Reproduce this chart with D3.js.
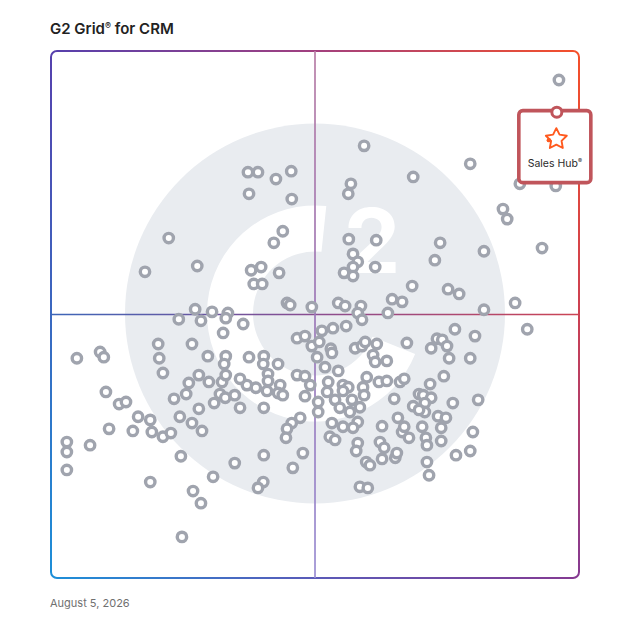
<!DOCTYPE html>
<html>
<head>
<meta charset="utf-8">
<script src="https://cdn.jsdelivr.net/npm/d3@7"></script>
<style>
  html, body { margin: 0; padding: 0; background: #fff; }
  svg { display: block; font-family: Inter, "Noto Sans", sans-serif; }
</style>
</head>
<body>
<div id="chart"></div>
<script>
// G2 Grid scatter: x = satisfaction, y = market presence (0-100)

const width = 628;
const height = 628;

const chartTitle = 'G2 Grid';
const chartSubject = ' for CRM';
const chartDate = 'August 5, 2026';

const satisfaction = [
  37.3, 39.2, 42.6, 45.5, 37.5, 45.6, 43.9, 42.2, 22.3, 17.8,
  27.7, 37.9, 39.8, 38.4, 40.0, 43.2, 44.7, 45.3, 49.4, 27.3,
  30.5, 33.5, 59.3, 79.4, 68.6, 56.8, 56.3, 88.8, 95.6, 85.6,
  86.4, 56.4, 61.6, 73.7, 93.0, 82.0, 57.2, 58.1, 72.7, 57.2,
  61.4, 55.5, 57.2, 68.4, 75.2, 77.3, 54.4, 55.7, 58.7, 64.6,
  66.5, 87.9, 82.0, 58.1, 63.8, 58.9, 96.2, 4.9, 9.3, 10.0,
  20.3, 20.5, 21.2, 24.2, 28.4, 33.1, 32.6, 26.7, 29.7, 33.1,
  32.8, 28.0, 26.1, 29.9, 32.4, 33.1, 25.6, 23.3, 32.0, 30.9,
  33.0, 28.0, 24.4, 26.7, 28.6, 10.4, 12.9, 14.2, 16.5, 18.8,
  19.1, 21.2, 22.7, 15.5, 11.0, 3.0, 7.4, 36.4, 46.6, 48.1,
  51.3, 53.4, 55.9, 49.4, 50.8, 50.4, 53.0, 53.2, 51.9, 54.4,
  57.6, 58.9, 59.5, 61.7, 61.0, 61.4, 63.6, 59.8, 62.1, 63.6,
  66.1, 66.9, 59.1, 59.3, 65.0, 55.3, 56.3, 55.3, 52.5, 52.3,
  53.8, 54.7, 57.0, 56.6, 58.5, 58.1, 55.3, 57.2, 53.2, 52.8,
  53.8, 62.7, 65.7, 66.5, 62.3, 58.1, 50.6, 50.6, 49.1, 48.1,
  46.6, 48.1, 47.2, 45.6, 44.7, 44.5, 43.0, 40.3, 40.2, 37.5,
  41.1, 41.1, 40.9, 43.4, 43.0, 43.9, 38.8, 37.1, 35.8, 34.8,
  35.8, 40.3, 90.2, 76.5, 80.3, 67.4, 73.1, 74.1, 72.0, 75.0,
  75.4, 79.4, 74.4, 71.8, 69.7, 70.5, 72.0, 68.6, 70.8, 70.8,
  69.7, 73.3, 74.8, 76.1, 80.9, 73.9, 70.3, 79.9, 67.8, 71.0,
  73.9, 66.9, 3.0, 3.0, 24.6, 18.8, 30.7, 26.9, 28.4, 24.8,
  40.3, 34.8, 47.7, 45.8, 40.2, 39.2, 57.8, 59.7, 60.4, 63.1,
  62.7, 65.2, 65.5, 58.5, 60.0, 71.2, 79.4, 76.7, 71.2, 71.6
];

const marketPresence = [
  77.0, 77.0, 75.7, 77.2, 72.9, 71.9, 65.8, 63.6, 64.5, 58.1,
  59.2, 58.4, 59.0, 55.8, 55.8, 57.9, 52.2, 51.8, 51.4, 51.0,
  50.5, 50.3, 82.0, 78.6, 76.1, 74.8, 72.9, 74.8, 74.4, 70.0,
  68.1, 64.3, 64.1, 63.6, 62.6, 62.0, 61.5, 60.0, 60.3, 59.0,
  59.0, 57.9, 57.3, 55.4, 54.8, 53.9, 52.2, 51.6, 51.6, 52.9,
  52.4, 52.2, 50.9, 50.3, 50.3, 49.0, 94.5, 41.7, 42.9, 41.9,
  44.4, 41.7, 38.9, 49.1, 48.8, 49.3, 46.5, 44.4, 42.1, 42.1,
  40.6, 38.5, 37.0, 37.2, 37.2, 38.5, 34.9, 34.0, 34.9, 33.2,
  34.2, 32.1, 30.6, 29.4, 27.9, 35.3, 33.0, 33.4, 30.6, 30.0,
  27.7, 26.8, 27.5, 27.9, 28.3, 25.8, 25.2, 48.2, 45.5, 45.9,
  46.9, 47.4, 47.8, 44.0, 44.8, 41.9, 43.5, 42.7, 40.0, 39.3,
  43.6, 44.0, 44.8, 44.4, 42.3, 41.0, 41.2, 38.1, 37.2, 37.4,
  37.2, 37.8, 36.2, 34.7, 34.0, 36.6, 36.2, 35.5, 37.2, 35.3,
  33.8, 32.3, 33.8, 31.5, 32.4, 29.6, 28.7, 28.5, 29.4, 26.8,
  26.2, 28.8, 30.4, 27.7, 25.8, 25.6, 33.4, 31.5, 36.6, 34.5,
  38.5, 38.3, 30.4, 29.4, 28.3, 26.6, 40.6, 42.1, 40.6, 41.9,
  38.7, 37.4, 35.5, 36.6, 35.1, 34.7, 36.1, 36.6, 37.8, 34.7,
  32.3, 32.3, 47.2, 47.2, 45.9, 44.6, 45.4, 45.2, 43.6, 44.0,
  41.7, 41.7, 38.3, 36.8, 34.9, 34.7, 34.2, 32.6, 33.2, 31.5,
  31.9, 30.7, 30.4, 33.2, 33.8, 28.5, 28.7, 27.7, 26.6, 26.6,
  26.0, 28.7, 23.9, 20.5, 23.1, 18.2, 19.2, 16.5, 14.2, 7.8,
  23.3, 21.8, 23.7, 20.9, 18.2, 17.1, 24.1, 22.0, 21.4, 24.7,
  22.6, 22.8, 23.7, 17.3, 17.1, 25.2, 24.1, 23.3, 22.0, 19.5
];

// highlighted product
const featuredName = 'Sales Hub';
const featuredScore = [95.8, 88.4]; // [satisfaction, market presence]

const xScale = d3.scaleLinear().domain([0, 100]).range([51, 579]);
const yScale = d3.scaleLinear().domain([0, 100]).range([578, 51]);

const points = satisfaction.map((s, i) => [s, marketPresence[i]]);

const svg = d3.select('#chart')
  .append('svg')
  .attr('width', width)
  .attr('height', height)
  .attr('viewBox', `0 0 ${width} ${height}`);

const defs = svg.append('defs');

function addGradient(id, x1, y1, x2, y2, stops) {
  const g = defs.append('linearGradient')
    .attr('id', id)
    .attr('gradientUnits', 'userSpaceOnUse')
    .attr('x1', x1).attr('y1', y1)
    .attr('x2', x2).attr('y2', y2);
  stops.forEach(([o, c]) => g.append('stop').attr('offset', o).attr('stop-color', c));
}

const x0 = xScale(0), x1 = xScale(100), y0 = yScale(100), y1 = yScale(0);
const xm = xScale(50), ym = yScale(50);

addGradient('g-top', x0, 0, x1, 0, [[0, '#5640ad'], [0.5, '#a2407f'], [1, '#f5502a']]);
addGradient('g-right', 0, y0, 0, y1, [[0, '#f5502a'], [0.5, '#cc4052'], [1, '#853a92']]);
addGradient('g-bottom', x0, 0, x1, 0, [[0, '#1d8fd8'], [0.5, '#5a5ab8'], [1, '#853a92']]);
addGradient('g-left', 0, y0, 0, y1, [[0, '#5640ad'], [0.5, '#3a68c0'], [1, '#1d8fd8']]);
addGradient('g-hmid', x0, 0, x1, 0, [[0, '#3d66b8'], [0.5, '#8a4c90'], [1, '#cc4454']]);
addGradient('g-vmid', 0, y0, 0, y1, [[0, '#b87ea6'], [0.5, '#9c78b8'], [1, '#9a8ed2']]);

// background G2 logo
const logo = svg.append('g').attr('transform', `translate(${xm}, ${ym - 1})`);

logo.append('circle')
  .attr('r', 190)
  .attr('fill', '#e9ecf0');

logo.append('path')
  .attr('d', d3.arc()
    .innerRadius(62)
    .outerRadius(108)
    .startAngle(112 * Math.PI / 180)
    .endAngle(366 * Math.PI / 180)())
  .attr('fill', '#fff');

logo.append('text')
  .attr('x', 57)
  .attr('y', -41)
  .attr('text-anchor', 'middle')
  .attr('fill', '#fff')
  .style('font-size', '90px')
  .style('font-weight', 700)
  .text('2');

// frame
const r = 6;
const frame = svg.append('g').attr('fill', 'none').attr('stroke-width', 2);
frame.append('path').attr('stroke', 'url(#g-top)')
  .attr('d', `M${x0},${y0 + r} A${r},${r} 0 0 1 ${x0 + r},${y0} H${x1 - r} A${r},${r} 0 0 1 ${x1},${y0 + r}`);
frame.append('path').attr('stroke', 'url(#g-right)')
  .attr('d', `M${x1},${y0 + r} V${y1 - r} A${r},${r} 0 0 1 ${x1 - r},${y1}`);
frame.append('path').attr('stroke', 'url(#g-bottom)')
  .attr('d', `M${x1 - r},${y1} H${x0 + r} A${r},${r} 0 0 1 ${x0},${y1 - r}`);
frame.append('path').attr('stroke', 'url(#g-left)')
  .attr('d', `M${x0},${y1 - r} V${y0 + r}`);

// quadrant lines
svg.append('line')
  .attr('x1', x0).attr('x2', x1)
  .attr('y1', ym).attr('y2', ym + 0.01)
  .attr('stroke', 'url(#g-hmid)')
  .attr('stroke-width', 1.7);

svg.append('line')
  .attr('x1', xm).attr('x2', xm + 0.01)
  .attr('y1', y0).attr('y2', y1)
  .attr('stroke', 'url(#g-vmid)')
  .attr('stroke-width', 1.7);

// products
svg.append('g')
  .selectAll('circle')
  .data(points)
  .enter()
  .append('circle')
  .attr('cx', (d) => xScale(d[0]))
  .attr('cy', (d) => yScale(d[1]))
  .attr('r', 4.7)
  .attr('fill', '#fff')
  .attr('stroke', '#a0a4ae')
  .attr('stroke-width', 3.4);

// featured product card
const fx = xScale(featuredScore[0]);
const fy = yScale(featuredScore[1]);
const card = svg.append('g');

card.append('rect')
  .attr('x', fx - 38)
  .attr('y', fy - 1.5)
  .attr('width', 72)
  .attr('height', 72)
  .attr('rx', 4)
  .attr('fill', '#fff')
  .attr('stroke', '#c0555b')
  .attr('stroke-width', 3.6);

const starPts = d3.range(10).map((i) => {
  const a = -Math.PI / 2 + i * Math.PI / 5;
  const rr = i % 2 === 0 ? 11 : 5.5;
  return [fx - 0.5 + rr * Math.cos(a), fy + 27 + rr * Math.sin(a)];
});

card.append('path')
  .attr('d', d3.line().curve(d3.curveLinearClosed)(starPts))
  .attr('fill', 'none')
  .attr('stroke', '#ff5a1f')
  .attr('stroke-width', 1.9)
  .attr('stroke-linejoin', 'round');

card.append('circle')
  .attr('cx', fx - 8)
  .attr('cy', fy + 28)
  .attr('r', 2.2)
  .attr('fill', '#ff5a1f');

const label = card.append('text')
  .attr('x', fx - 2)
  .attr('y', fy + 54.5)
  .attr('text-anchor', 'middle')
  .attr('fill', '#2b2b2b')
  .style('font-size', '10.5px');
label.append('tspan').text(featuredName);
label.append('tspan').attr('dy', -4).style('font-size', '6px').text('®');

card.append('circle')
  .attr('cx', fx)
  .attr('cy', fy)
  .attr('r', 5)
  .attr('fill', '#fff')
  .attr('stroke', '#c0555b')
  .attr('stroke-width', 3);

// title and date
const title = svg.append('text')
  .attr('x', 50)
  .attr('y', 34)
  .attr('fill', '#222')
  .style('font-size', '15px')
  .style('font-weight', 600);
title.append('tspan').text(chartTitle);
title.append('tspan').attr('dy', -5).style('font-size', '9px').text('®');
title.append('tspan').attr('dy', 5).text(chartSubject);

svg.append('text')
  .attr('x', 50)
  .attr('y', 607)
  .attr('fill', '#707070')
  .style('font-size', '11px')
  .text(chartDate);
</script>
</body>
</html>
